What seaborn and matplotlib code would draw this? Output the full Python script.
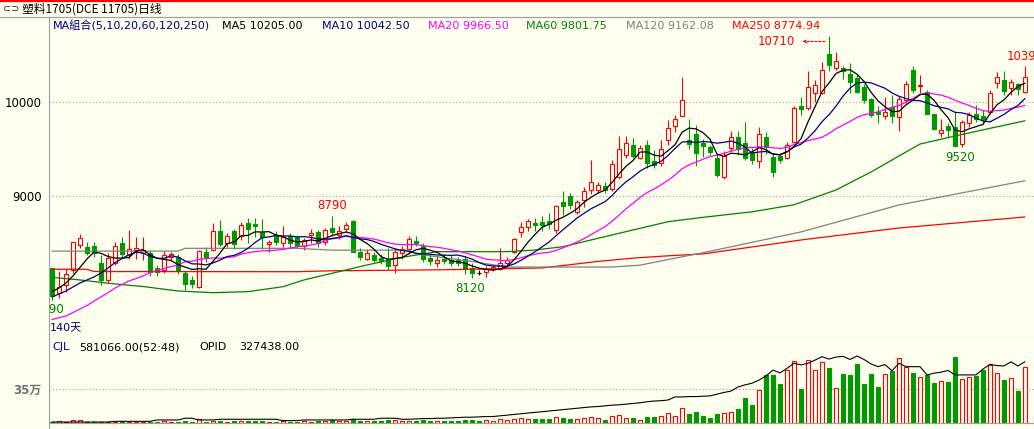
import numpy as np
import pandas as pd
import matplotlib
matplotlib.use("Agg")
import matplotlib.pyplot as plt
from matplotlib.lines import Line2D
import seaborn as sns

# ---------------- data ----------------
title = "塑料1705(DCE 11705)日线"
opens = [8226, 7960, 8048, 8208, 8475, 8457, 8465, 8280, 8102, 8287,
         8500, 8369, 8420, 8390, 8390, 8230, 8210, 8350, 8350, 8180,
         8100, 8030, 8400, 8420, 8630, 8500, 8620, 8570, 8710, 8700,
         8610, 8490, 8580, 8500, 8570, 8560, 8460, 8580, 8610, 8510,
         8660, 8580, 8650, 8730, 8400, 8330, 8370, 8340, 8330, 8260,
         8390, 8430, 8520, 8470, 8340, 8280, 8330, 8320, 8310, 8330,
         8230, 8180, 8190, 8220, 8220, 8280, 8400, 8610, 8670, 8710,
         8720, 8730, 8640, 8940, 9000, 8830, 8960, 9060, 9060, 9110,
         9070, 9200, 9440, 9540, 9410, 9540, 9370, 9350, 9600, 9750,
         9850, 9600, 9660, 9560, 9520, 9400, 9200, 9510, 9630, 9560,
         9460, 9370, 9630, 9420, 9430, 9400, 9580, 9960, 9940, 10100,
         10100, 10520, 10370, 10370, 10300, 10260, 10160, 10030, 9900, 9850,
         9950, 9840, 10020, 10350, 10170, 10110, 9870, 9670, 9750, 9740,
         9550, 9780, 9880, 9850, 9900, 10210, 10240, 10150, 10200, 10110]
highs = [8230, 8200, 8216, 8510, 8593, 8504, 8510, 8369, 8390, 8510,
         8560, 8634, 8560, 8560, 8420, 8260, 8410, 8400, 8380, 8200,
         8140, 8420, 8450, 8710, 8740, 8600, 8650, 8720, 8760, 8760,
         8750, 8530, 8620, 8680, 8600, 8580, 8550, 8650, 8640, 8660,
         8790, 8680, 8720, 8740, 8440, 8430, 8400, 8380, 8440, 8440,
         8470, 8570, 8570, 8500, 8390, 8360, 8380, 8370, 8350, 8360,
         8280, 8210, 8250, 8260, 8440, 8350, 8550, 8720, 8750, 8760,
         8780, 8820, 8900, 9050, 9030, 8960, 9090, 9380, 9150, 9150,
         9380, 9640, 9640, 9620, 9540, 9600, 9490, 9600, 9810, 9860,
         10270, 9820, 9760, 9610, 9540, 9450, 9480, 9690, 9690, 9790,
         9510, 9740, 9680, 9460, 9460, 9580, 9960, 10060, 10330, 10240,
         10430, 10710, 10540, 10390, 10420, 10300, 10200, 10050, 9960, 10060,
         10080, 10070, 10230, 10390, 10290, 10130, 9880, 9820, 9780, 9900,
         9810, 9900, 9970, 9920, 10130, 10320, 10330, 10250, 10210, 10390]
lows = [7890, 7910, 7977, 8180, 8440, 8369, 8350, 8048, 8070, 8262,
        8340, 8330, 8330, 8320, 8140, 8140, 8180, 8300, 8170, 7995,
        8020, 8020, 8290, 8410, 8470, 8450, 8430, 8530, 8500, 8560,
        8430, 8400, 8480, 8450, 8440, 8440, 8420, 8500, 8450, 8480,
        8570, 8540, 8610, 8400, 8320, 8310, 8290, 8270, 8210, 8180,
        8330, 8380, 8470, 8290, 8260, 8240, 8270, 8250, 8250, 8170,
        8120, 8150, 8130, 8200, 8210, 8240, 8390, 8560, 8630, 8620,
        8620, 8650, 8600, 8800, 8860, 8810, 8880, 9020, 9030, 9030,
        9050, 9180, 9400, 9400, 9390, 9300, 9300, 9320, 9540, 9680,
        9850, 9500, 9320, 9420, 9440, 9200, 9180, 9480, 9440, 9380,
        9340, 9300, 9450, 9200, 9350, 9390, 9570, 9860, 9920, 10000,
        10090, 10330, 10340, 10250, 10100, 10100, 9990, 9840, 9780, 9820,
        9780, 9690, 9990, 10100, 10100, 9870, 9700, 9630, 9630, 9530,
        9520, 9740, 9790, 9780, 9870, 10150, 10080, 10080, 10080, 10100]
closes = [7934, 8030, 8166, 8504, 8547, 8387, 8394, 8102, 8333, 8465,
          8380, 8430, 8440, 8420, 8190, 8190, 8370, 8380, 8200, 8060,
          8060, 8410, 8350, 8630, 8490, 8570, 8490, 8690, 8650, 8680,
          8560, 8510, 8510, 8560, 8500, 8460, 8530, 8600, 8500, 8640,
          8610, 8630, 8690, 8400, 8350, 8390, 8320, 8300, 8250, 8400,
          8430, 8540, 8500, 8330, 8300, 8320, 8300, 8280, 8280, 8220,
          8180, 8180, 8215, 8240, 8280, 8310, 8540, 8670, 8730, 8690,
          8690, 8700, 8890, 8890, 8900, 8930, 9050, 9150, 9120, 9060,
          9340, 9500, 9560, 9430, 9510, 9350, 9330, 9500, 9730, 9820,
          10020, 9550, 9460, 9530, 9470, 9220, 9430, 9630, 9500, 9410,
          9380, 9660, 9520, 9260, 9380, 9540, 9940, 9930, 10160, 10190,
          10350, 10400, 10440, 10330, 10220, 10110, 10020, 9860, 9870, 9900,
          9850, 10040, 10200, 10130, 10190, 9880, 9710, 9700, 9700, 9530,
          9790, 9860, 9820, 9820, 10100, 10270, 10120, 10220, 10140, 10270]
volumes = [10000, 20000, 8000, 30000, 30000, 10000, 10000, 12000, 10000, 10000,
           22000, 12000, 12000, 10000, 10000, 10000, 20000, 12000, 10000, 18000,
           10000, 35000, 12000, 20000, 20000, 12000, 14000, 18000, 20000, 20000,
           18000, 12000, 12000, 14000, 12000, 10000, 14000, 12000, 14000, 14000,
           28000, 14000, 16000, 35000, 18000, 20000, 14000, 18000, 28000, 30000,
           20000, 22000, 18000, 25000, 20000, 18000, 18000, 18000, 20000, 30000,
           25000, 22000, 28000, 22000, 35000, 28000, 40000, 45000, 40000, 35000,
           35000, 38000, 60000, 50000, 40000, 35000, 45000, 60000, 45000, 28000,
           70000, 80000, 49000, 49000, 28000, 59000, 59000, 70000, 98000, 70000,
           154000, 91000, 115000, 70000, 49000, 91000, 101000, 112000, 143000, 258000,
           185000, 342000, 500000, 500000, 405000, 548000, 643000, 353000, 653000, 548000,
           632000, 569000, 360000, 510000, 500000, 615000, 405000, 510000, 374000, 510000,
           545000, 674000, 580000, 520000, 475000, 500000, 416000, 433000, 426000, 688000,
           454000, 475000, 489000, 552000, 608000, 520000, 447000, 465000, 332000, 581066]
open_interest = [152000, 152000, 152000, 152000, 152000, 152000, 152000, 152000, 152000, 154000,
                 154000, 154000, 154000, 154000, 154000, 158000, 158000, 158000, 158000, 163000,
                 163000, 158000, 158000, 158000, 160000, 160000, 160000, 160000, 160000, 160000,
                 160000, 160000, 160000, 156000, 156000, 156000, 158000, 158000, 158000, 158000,
                 158000, 158000, 158000, 160000, 160000, 160000, 160000, 163000, 163000, 163000,
                 160000, 160000, 161000, 162000, 162000, 163000, 163000, 164000, 165000, 166000,
                 166000, 167000, 168000, 168000, 170000, 172000, 174000, 176000, 178000, 180000,
                 182000, 184000, 186000, 188000, 190000, 192000, 194000, 196000, 197000, 199000,
                 201000, 202000, 204000, 206000, 208000, 211000, 213000, 214000, 216000, 225000,
                 225000, 226000, 226000, 227000, 228000, 233000, 238000, 242000, 254000, 260000,
                 265000, 274000, 286000, 303000, 295000, 308000, 323000, 318000, 323000, 332000,
                 342000, 335000, 341000, 343000, 334000, 344000, 334000, 321000, 313000, 319000,
                 301000, 323000, 313000, 313000, 313000, 289000, 294000, 297000, 302000, 289000,
                 289000, 289000, 289000, 306000, 320000, 316000, 315000, 327000, 315000, 327438]

# moving-average values visible before enough bars exist in the window
ma5_lead = [7977, 8016, 8070, 8145]
ma10_lead = [7920, 7952, 7984, 8027, 8070, 8102, 8134, 8176, 8230]
ma20_lead = [7680, 7698, 7717, 7754, 7792, 7829, 7877, 7920, 7966, 8016,
             8053, 8091, 8118, 8144, 8180, 8203, 8224, 8244, 8262]
# long moving averages (bar index, value)
ma60_idx = [0, 4, 9, 13, 18, 23, 28, 33, 36, 40, 45, 50, 55, 65, 69, 73, 78, 83, 88, 93,
            100, 106, 112, 117, 120, 124, 129, 134, 139]
ma60_val = [8130, 8102, 8059, 8032, 7984, 7966, 7977, 8030, 8102, 8173, 8262, 8344, 8404,
            8404, 8422, 8457, 8547, 8636, 8724, 8771, 8830, 8905, 9063, 9255, 9384, 9554,
            9640, 9722, 9802]
ma120_idx = [0, 18, 19, 35, 40, 51, 52, 56, 60, 65, 80, 84, 88, 93, 107, 121, 139]
ma120_val = [8410, 8410, 8440, 8440, 8420, 8420, 8380, 8340, 8300, 8240, 8240, 8260,
             8320, 8393, 8615, 8903, 9162]
ma250_idx = [0, 5, 6, 35, 40, 55, 70, 78, 83, 88, 93, 107, 121, 139]
ma250_val = [8216, 8216, 8192, 8190, 8200, 8210, 8230, 8300, 8335, 8360, 8380, 8529,
             8657, 8775]

legend_texts = ["MA組合(5,10,20,60,120,250)", "MA5 10205.00", "MA10 10042.50",
                "MA20 9966.50", "MA60 9801.75", "MA120 9162.08", "MA250 8774.94"]
vol_header = ["CJL", "581066.00(52:48)", "OPID", "327438.00"]
price_ticks = [9000, 10000]
price_tick_labels = ["9000", "10000"]
vol_ticks = [350000]
vol_tick_labels = ["35万"]
days_label = "140天"

# ---------------- style ----------------
W, H = 1034, 429
BG = "#FFFFF0"
UP = "#FF0000"
DOWN = "#009900"
NAVY = "#000080"
MAG = "#FF00FF"
MGREEN = "#008000"
GRAY = "#808080"
AXC = "#A0A0A0"

sns.set_theme(style="white")
plt.rcParams["font.family"] = ["DejaVu Sans", "Noto Sans CJK SC"]
plt.rcParams["axes.facecolor"] = BG
plt.rcParams["figure.facecolor"] = BG

fig = plt.figure(figsize=(W / 100, H / 100), dpi=100)


def fx(px):
    return px / W


def fy(py):
    return 1 - py / H


TOP, MID, BOT, LEFT = 16.5, 338.3, 422.7, 48.5
ax = fig.add_axes([fx(LEFT), fy(MID), 1 - fx(LEFT), (MID - TOP) / H])
axv = fig.add_axes([fx(LEFT), fy(BOT), 1 - fx(LEFT), (BOT - MID) / H], sharex=ax)

n = len(closes)
idx = np.arange(n)
df = pd.DataFrame({"i": idx, "o": opens, "h": highs, "l": lows, "c": closes,
                   "v": volumes, "oi": open_interest})
up = df["c"] > df["o"]
doji = df["c"] == df["o"]
cols = np.where(doji, "black", np.where(up, UP, DOWN))
faces = np.where(up, BG, cols)

# candles
ax.vlines(df["i"], df["l"], df["h"], colors=cols, lw=0.8, zorder=2)
body_bot = np.minimum(df["o"], df["c"])
body_h = np.maximum(np.abs(df["c"] - df["o"]), 1)
ax.bar(df["i"], body_h, bottom=body_bot, width=0.6, color=faces, edgecolor=cols,
       linewidth=0.8, zorder=3)

# moving averages
s = pd.Series(closes, dtype=float)
ma5 = s.rolling(5).mean().to_numpy()
ma5[:4] = ma5_lead
ma10 = s.rolling(10).mean().to_numpy()
ma10[:9] = ma10_lead
ma20 = s.rolling(20).mean().to_numpy()
ma20[:19] = ma20_lead
for xs, ys, c in [(ma250_idx, ma250_val, UP), (ma120_idx, ma120_val, GRAY),
                  (ma60_idx, ma60_val, MGREEN), (idx, ma20, MAG),
                  (idx, ma10, NAVY), (idx, ma5, "black")]:
    sns.lineplot(x=xs, y=ys, ax=ax, color=c, lw=0.9, estimator=None, zorder=4)

ax.set_xlim(-0.5, (1034 - 52) / 7)
ax.set_ylim(10000 - (MID - 102.3) * 10.684, 10000 + (102.3 - TOP) * 10.684)
ax.set_yticks(price_ticks, price_tick_labels)
for t in price_ticks:
    ax.axhline(t, color=AXC, lw=0.8, ls=(0, (1, 2)), zorder=1)
ax.tick_params(axis="y", length=0, pad=5, labelsize=8.5, colors="black")
ax.tick_params(axis="x", length=0, labelbottom=False)
ax.spines["right"].set_visible(False)
for sp in ["left", "top", "bottom"]:
    ax.spines[sp].set_color(AXC)
    ax.spines[sp].set_linewidth(0.8)
ax.set_xlabel("")
ax.set_ylabel("")

# extreme price labels
hi_i = int(df["h"].idxmax())
ax.text(hi_i - 4.9, df["h"][hi_i] - 60, f"{df['h'][hi_i]}", color=UP, fontsize=8.5,
        ha="right", va="center")
ax.annotate("", xy=(hi_i - 4.2, df["h"][hi_i] - 60), xytext=(hi_i - 0.2, df["h"][hi_i] - 60),
            arrowprops=dict(arrowstyle="->", color=UP, lw=0.8, ls=(0, (2, 1.5)),
                            mutation_scale=6))
for i_lab in [40, 139]:
    ax.text(i_lab, df["h"][i_lab] + 35, f"{df['h'][i_lab]}", color=UP, fontsize=8.5,
            ha="center", va="bottom")
for i_lab in [60, 130]:
    ax.text(i_lab - 0.3, df["l"][i_lab] - 35, f"{df['l'][i_lab]}", color=MGREEN,
            fontsize=8.5, ha="center", va="top")
ax.text(-0.45, df["l"][0] - 35, f"{df['l'][0]}", color=MGREEN, fontsize=8.5,
        ha="center", va="top", clip_on=True)

# legend row
leg_x = [52.5, 222, 321.5, 427.5, 526.5, 626, 731.5]
leg_c = [NAVY, "black", NAVY, MAG, MGREEN, GRAY, UP]
for txt, xp, c in zip(legend_texts, leg_x, leg_c):
    fig.text(fx(xp), fy(26), txt, color=c, fontsize=8, va="center", ha="left")
fig.text(fx(50), fy(328), days_label, color=NAVY, fontsize=8, va="center", ha="left")

# volume panel
vcols = np.where(up, UP, DOWN)
vfaces = np.where(up, BG, DOWN)
axv.bar(df["i"], df["v"], width=0.62, color=vfaces, edgecolor=vcols, linewidth=0.8,
        zorder=3)
axv.set_ylim(0, (BOT - MID) * 10479)
axv.set_yticks(vol_ticks, vol_tick_labels)
axv.axhline(vol_ticks[0], color=AXC, lw=0.8, ls=(0, (1, 2)), zorder=1)
axv.tick_params(axis="y", length=0, pad=5, labelsize=8.5, colors="#707070")
for lab in axv.get_yticklabels():
    lab.set_fontweight("bold")
axv.tick_params(axis="x", length=0, labelbottom=False)
axv.spines["right"].set_visible(False)
axv.spines["top"].set_visible(False)
for sp in ["left", "bottom"]:
    axv.spines[sp].set_color(AXC)
    axv.spines[sp].set_linewidth(0.8)
axo = axv.twinx()
sns.lineplot(x=idx, y=open_interest, ax=axo, color="black", lw=0.8, estimator=None)
axo.set_ylim(150000, 150000 + (BOT - MID) * 2909)
axo.axis("off")
axv.set_xlabel("")
axv.set_ylabel("")

vh_x = [52.5, 79, 199, 239]
vh_c = [NAVY, "black", "black", "black"]
for txt, xp, c in zip(vol_header, vh_x, vh_c):
    fig.text(fx(xp), fy(347.5), txt, color=c, fontsize=8, va="center", ha="left")

# frame / header
fig.add_artist(Line2D([0, 1], [fy(0.8), fy(0.8)], color="red", lw=1.6))
fig.add_artist(Line2D([0, 1], [fy(TOP), fy(TOP)], color=AXC, lw=0.8))
fig.add_artist(Line2D([fx(LEFT), fx(LEFT)], [fy(BOT), 0], color=AXC, lw=0.8))
fig.text(fx(3), fy(9), "⊂⊃", fontsize=7, color="#202020", va="center", ha="left",
         family=["DejaVu Sans"])
fig.text(fx(22), fy(9), title, fontsize=8.5, color="black", va="center", ha="left",
         family=["Noto Sans CJK SC", "DejaVu Sans"])

fig.savefig("out.png", dpi=100, facecolor=BG)
